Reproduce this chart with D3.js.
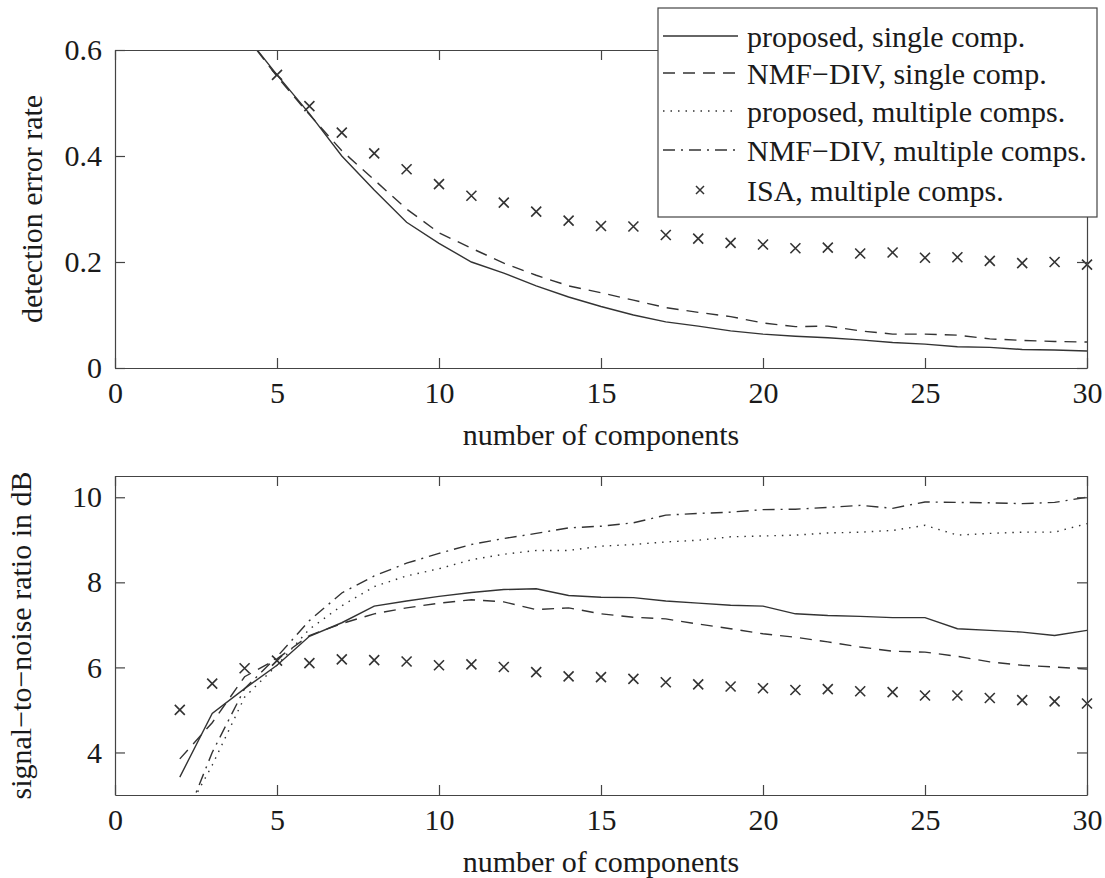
<!DOCTYPE html>
<html lang="en">
<head>
<meta charset="UTF-8">
<title>components</title>
<script src="https://d3js.org/d3.v7.min.js"></script>
<style>
    body { margin: 0; background: #fff; }
    svg text { font-family: "Liberation Serif", "DejaVu Serif", serif; fill: #1a1a1a; }
    .axis path, .axis line { stroke: #444; stroke-width: 1.2; }
    .axis text { font-size: 30px; font-family: "Liberation Serif", serif; fill: #1a1a1a; }
</style>
</head>
<body>
<script>
// x values (number of components)
var xTop = d3.range(4, 31);
var xIsaTop = d3.range(5, 31);
var xBot = d3.range(2, 31);

// detection error rate
var topProposedSingle = [0.63, 0.553, 0.48, 0.40, 0.336, 0.275, 0.235, 0.20, 0.179, 0.155, 0.134, 0.116, 0.100, 0.087,
    0.079, 0.070, 0.064, 0.060, 0.057, 0.053, 0.048, 0.045, 0.040, 0.039, 0.035, 0.034, 0.032];
var topNmfSingle = [0.63, 0.55, 0.478, 0.41, 0.355, 0.30, 0.255, 0.226, 0.198, 0.175, 0.155, 0.142, 0.128, 0.114,
    0.105, 0.097, 0.085, 0.078, 0.079, 0.070, 0.064, 0.064, 0.062, 0.055, 0.052, 0.050, 0.049];
var topIsa = [0.553, 0.494, 0.444, 0.405, 0.375, 0.347, 0.325, 0.312, 0.295, 0.278, 0.268, 0.267, 0.251,
    0.244, 0.236, 0.233, 0.226, 0.227, 0.216, 0.218, 0.208, 0.209, 0.202, 0.198, 0.200, 0.195];

// signal-to-noise ratio in dB
var botProposedSingle = [3.42, 4.92, 5.5, 6.05, 6.73, 7.05, 7.44, 7.56, 7.67, 7.76, 7.83, 7.85, 7.69, 7.65, 7.64,
    7.56, 7.51, 7.46, 7.44, 7.26, 7.22, 7.20, 7.17, 7.17, 6.91, 6.87, 6.83, 6.75, 6.87];
var botNmfSingle = [3.85, 4.7, 5.78, 6.2, 6.75, 7.03, 7.26, 7.40, 7.51, 7.59, 7.54, 7.36, 7.40, 7.26, 7.18,
    7.14, 7.02, 6.91, 6.79, 6.71, 6.60, 6.48, 6.38, 6.36, 6.26, 6.13, 6.05, 6.01, 5.96];
var botProposedMulti = [2.3, 3.7, 5.3, 6.05, 6.9, 7.45, 7.9, 8.15, 8.32, 8.53, 8.66, 8.75, 8.75, 8.85, 8.89,
    8.95, 8.99, 9.07, 9.09, 9.11, 9.16, 9.18, 9.22, 9.34, 9.11, 9.15, 9.18, 9.18, 9.38];
var botNmfMulti = [2.1, 4.0, 5.5, 6.25, 7.1, 7.75, 8.15, 8.45, 8.68, 8.89, 9.03, 9.15, 9.28, 9.32, 9.40,
    9.58, 9.62, 9.65, 9.71, 9.72, 9.76, 9.81, 9.74, 9.89, 9.88, 9.87, 9.85, 9.88, 10.0];
var botIsa = [5.0, 5.62, 5.98, 6.16, 6.10, 6.19, 6.17, 6.14, 6.05, 6.07, 6.01, 5.89, 5.79, 5.77, 5.73,
    5.65, 5.60, 5.55, 5.51, 5.47, 5.49, 5.44, 5.42, 5.34, 5.34, 5.28, 5.23, 5.20, 5.15];

var xTicks = [0, 5, 10, 15, 20, 25, 30];
var topYTicks = [0, 0.2, 0.4, 0.6];
var topYLabels = ["0", "0.2", "0.4", "0.6"];
var botYTicks = [4, 6, 8, 10];

var legendNames = ["proposed, single comp.", "NMF\u2212DIV, single comp.", "proposed, multiple comps.",
    "NMF\u2212DIV, multiple comps.", "ISA, multiple comps."];

var width = 1105, height = 878;
var left = 115, right = 1087;
var lineColor = "#333";

// line styles for each series
var styles = {
    solid: null,
    dashed: "12,8",
    dotted: "1.5,6",
    dashdot: "12,6,2,6"
};

var svg = d3.select("body").append("svg")
    .attr("width", width)
    .attr("height", height);

var x = d3.scaleLinear().domain([0, 30]).range([left, right]);

function drawPanel(id, top, bottom, yDomain, yTicks, yLabels, series, isa, xTitle, yTitle, yTitleX) {
    var y = d3.scaleLinear().domain(yDomain).range([bottom, top]);
    var g = svg.append("g");

    g.append("clipPath").attr("id", id)
        .append("rect")
        .attr("x", left).attr("y", top)
        .attr("width", right - left).attr("height", bottom - top);

    var line = d3.line()
        .x(function (d) { return x(d[0]); })
        .y(function (d) { return y(d[1]); });

    series.forEach(function (s) {
        g.append("path")
            .datum(d3.zip(s.xs, s.ys))
            .attr("clip-path", "url(#" + id + ")")
            .attr("d", line)
            .attr("fill", "none")
            .attr("stroke", lineColor)
            .attr("stroke-width", 1.4)
            .attr("stroke-dasharray", styles[s.style]);
    });

    g.selectAll(".isa")
        .data(d3.zip(isa.xs, isa.ys))
        .enter().append("path")
        .attr("transform", function (d) { return "translate(" + x(d[0]) + "," + y(d[1]) + ")"; })
        .attr("d", "M-5,-5L5,5M-5,5L5,-5")
        .attr("stroke", lineColor)
        .attr("stroke-width", 1.6);

    // box and inward ticks
    g.append("g").attr("class", "axis")
        .attr("transform", "translate(0," + bottom + ")")
        .call(d3.axisBottom(x).tickValues(xTicks).tickFormat(d3.format("d"))
            .tickSizeInner(-10).tickSizeOuter(0).tickPadding(14));
    g.append("g").attr("class", "axis")
        .attr("transform", "translate(0," + top + ")")
        .call(d3.axisTop(x).tickValues(xTicks).tickFormat("")
            .tickSizeInner(-10).tickSizeOuter(0));
    g.append("g").attr("class", "axis")
        .attr("transform", "translate(" + left + ",0)")
        .call(d3.axisLeft(y).tickValues(yTicks)
            .tickFormat(function (d, i) { return yLabels[i]; })
            .tickSizeInner(-10).tickSizeOuter(0).tickPadding(13));
    g.append("g").attr("class", "axis")
        .attr("transform", "translate(" + right + ",0)")
        .call(d3.axisRight(y).tickValues(yTicks).tickFormat("")
            .tickSizeInner(-10).tickSizeOuter(0));

    g.append("text")
        .attr("x", (left + right) / 2)
        .attr("y", bottom + 77)
        .attr("text-anchor", "middle")
        .style("font-size", "30px")
        .text(xTitle);

    g.append("text")
        .attr("transform", "translate(" + yTitleX + "," + (top + bottom) / 2 + ") rotate(-90)")
        .attr("text-anchor", "middle")
        .style("font-size", "30px")
        .text(yTitle);
}

drawPanel("clipTop", 50, 368, [0, 0.6], topYTicks, topYLabels, [
    { xs: xTop, ys: topProposedSingle, style: "solid" },
    { xs: xTop, ys: topNmfSingle, style: "dashed" }
], { xs: xIsaTop, ys: topIsa }, "number of components", "detection error rate", 42);

drawPanel("clipBot", 476, 795, [3, 10.5], botYTicks, botYTicks.map(String), [
    { xs: xBot, ys: botProposedSingle, style: "solid" },
    { xs: xBot, ys: botNmfSingle, style: "dashed" },
    { xs: xBot, ys: botProposedMulti, style: "dotted" },
    { xs: xBot, ys: botNmfMulti, style: "dashdot" }
], { xs: xBot, ys: botIsa }, "number of components", "signal\u2212to\u2212noise ratio in dB", 31);

// legend
var legend = svg.append("g");
legend.append("rect")
    .attr("x", 658).attr("y", 8)
    .attr("width", 439).attr("height", 209)
    .attr("fill", "#fff")
    .attr("stroke", "#444")
    .attr("stroke-width", 1.2);

var legendStyles = ["solid", "dashed", "dotted", "dashdot", null];
var rowY = [36, 73, 111, 150, 190];

legendNames.forEach(function (name, i) {
    var yy = rowY[i];
    if (legendStyles[i]) {
        legend.append("line")
            .attr("x1", 663).attr("x2", 738)
            .attr("y1", yy).attr("y2", yy)
            .attr("stroke", lineColor)
            .attr("stroke-width", 1.4)
            .attr("stroke-dasharray", styles[legendStyles[i]]);
    } else {
        legend.append("path")
            .attr("transform", "translate(700," + yy + ")")
            .attr("d", "M-4,-4L4,4M-4,4L4,-4")
            .attr("stroke", lineColor)
            .attr("stroke-width", 1.5);
    }
    legend.append("text")
        .attr("x", 747)
        .attr("y", yy)
        .attr("dy", "0.35em")
        .style("font-size", "30px")
        .text(name);
});
</script>
</body>
</html>
